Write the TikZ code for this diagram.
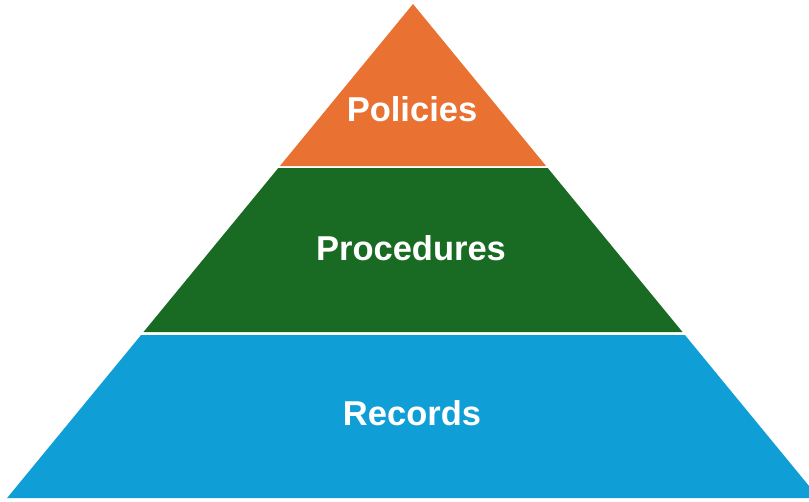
\documentclass[tikz,border=0pt]{standalone}
\usepackage{fontspec}
\setmainfont{Liberation Sans}
\definecolor{orangeA}{HTML}{E97132}
\definecolor{greenA}{HTML}{196B24}
\definecolor{blueA}{HTML}{0F9ED5}
\begin{document}
\begin{tikzpicture}[x=1pt,y=-1pt,
  lbl/.style={text=white,font=\bfseries\fontsize{34.5}{40}\selectfont,inner sep=0pt,anchor=base}]
\useasboundingbox (0,0) rectangle (809,501);
\clip (0,0) rectangle (809,501);
\fill[orangeA] (413,4) -- (546.1,166) -- (279.9,166) -- cycle;
\fill[greenA] (278.3,168) -- (547.7,168) -- (682.5,332) -- (143.5,332) -- cycle;
\fill[blueA] (141.1,335) -- (684.9,335) -- (818.9,498) -- (7.1,498) -- cycle;
\node[lbl] (pol) at (412,121) {Policies};
\node[lbl] (pro) at (411,260) {Procedures};
\node[lbl] (rec) at (412,425) {Records};
\end{tikzpicture}
\end{document}
